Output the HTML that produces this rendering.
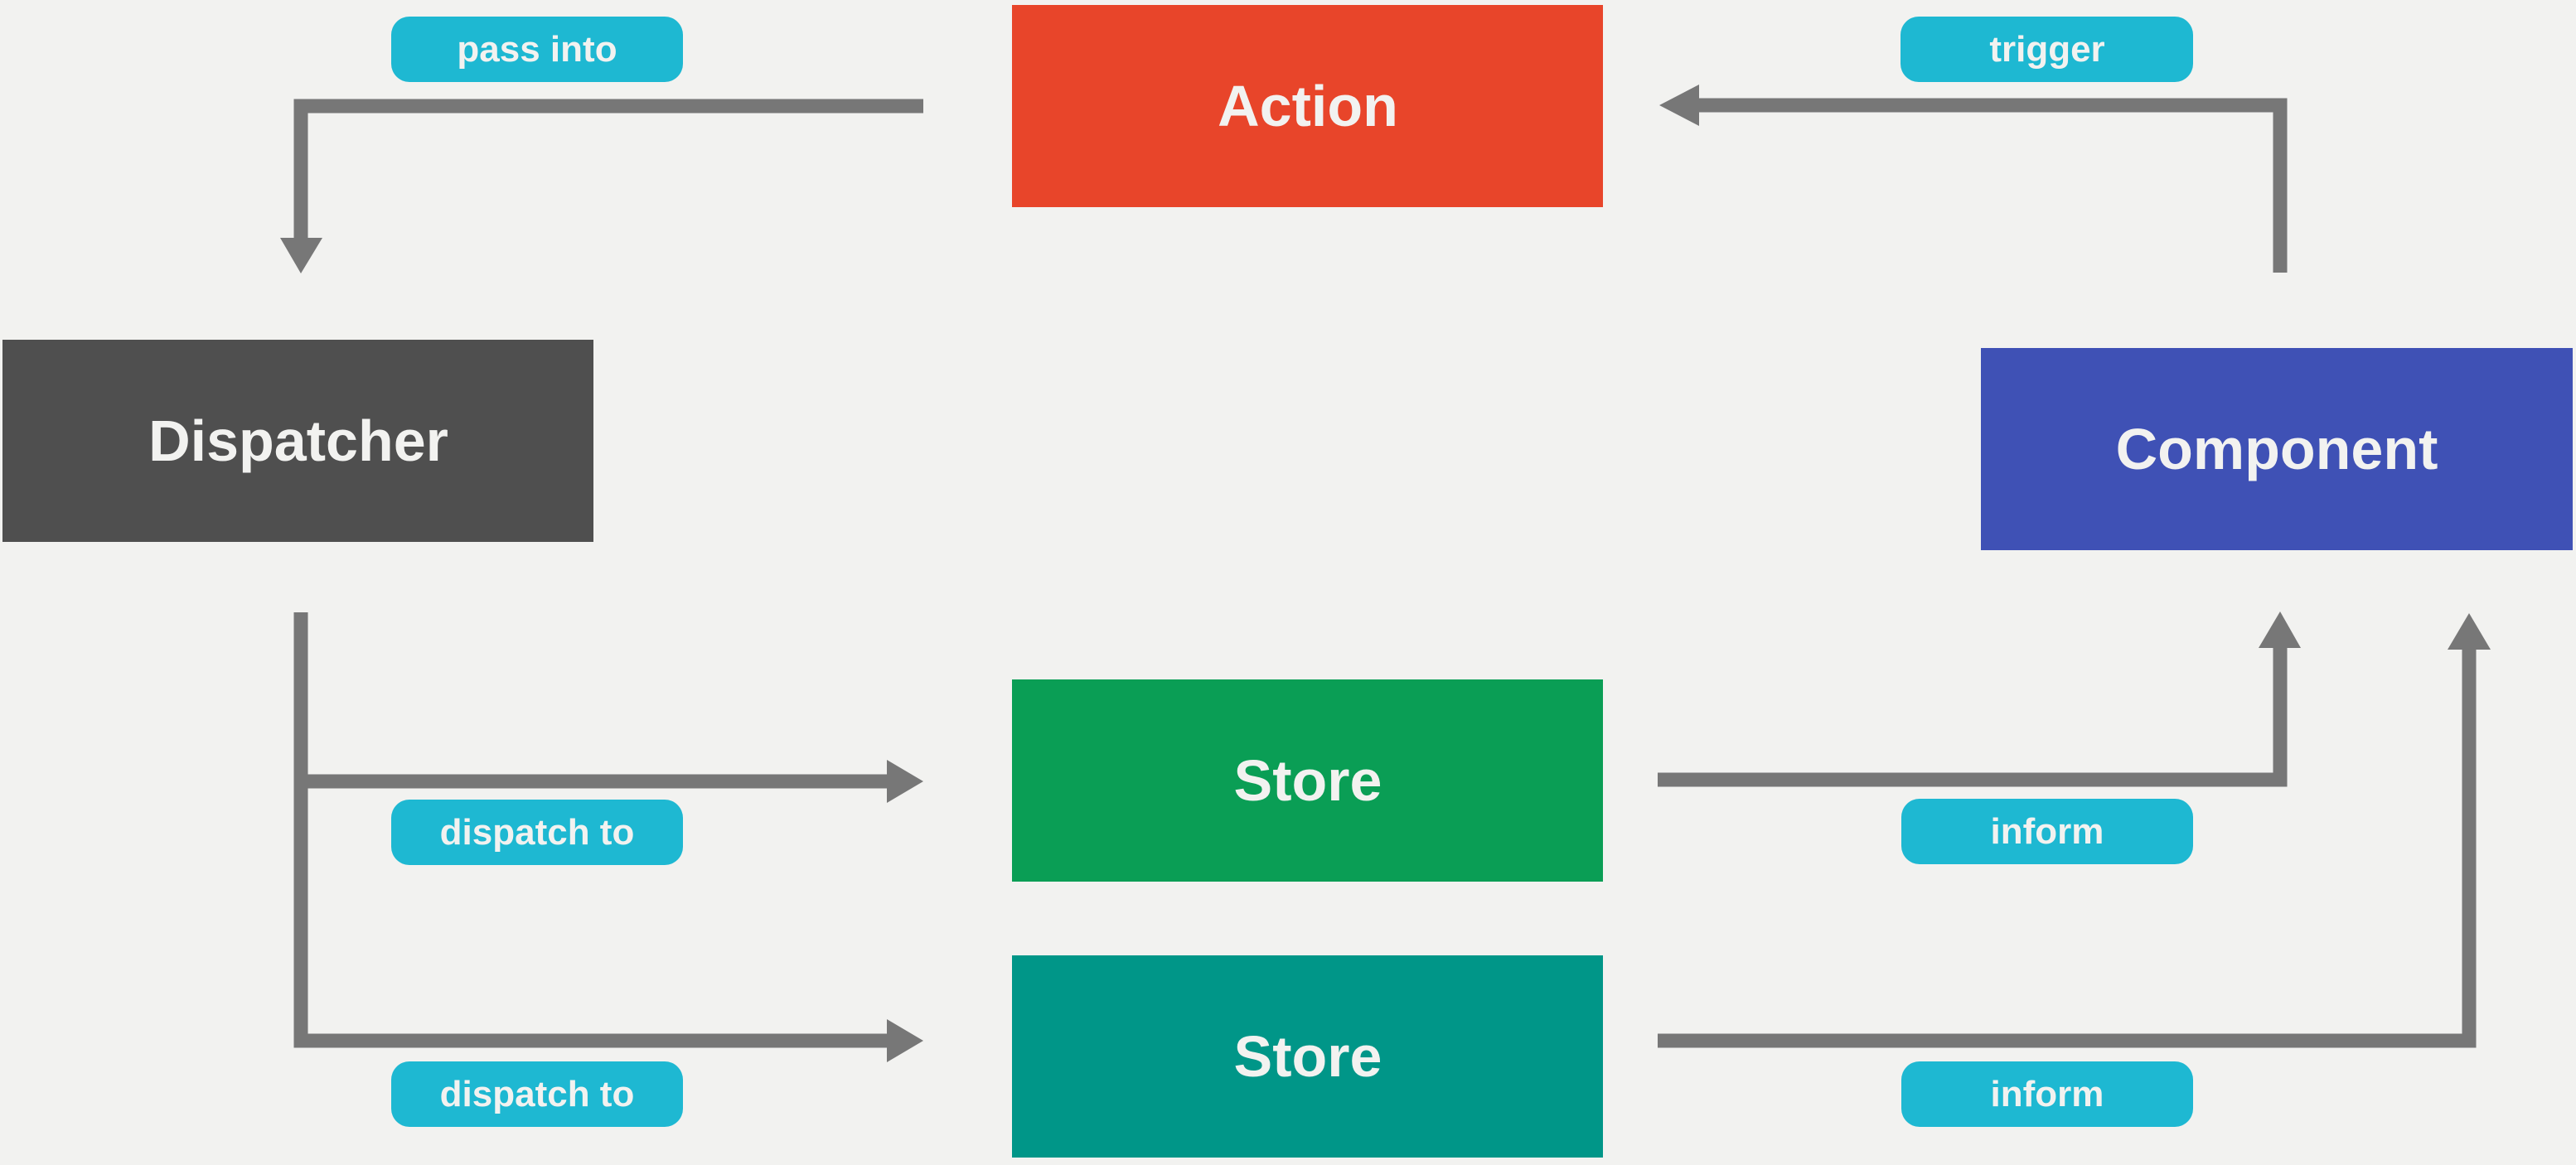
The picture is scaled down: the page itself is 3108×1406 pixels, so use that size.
<!DOCTYPE html>
<html><head><meta charset="utf-8"><style>
html,body{margin:0;padding:0;background:#f2f2f0;}
svg{display:block;}
text{font-family:"Liberation Sans",sans-serif;font-weight:bold;fill:#f2f2f0;text-anchor:middle;}
.b{font-size:70px;}
.l{font-size:44px;}
</style></head><body>
<svg width="3108" height="1406" viewBox="0 0 3108 1406" xmlns="http://www.w3.org/2000/svg">
<rect width="3108" height="1406" fill="#f2f2f0"/>
<!-- boxes -->
<rect x="1221" y="6" width="713" height="244" fill="#e8452a"/>
<text class="b" x="1578" y="152">Action</text>
<rect x="3" y="410" width="713" height="244" fill="#4f4f4f"/>
<text class="b" x="360" y="556">Dispatcher</text>
<rect x="2390" y="420" width="714" height="244" fill="#3f51b5"/>
<text class="b" x="2747" y="566">Component</text>
<rect x="1221" y="820" width="713" height="244" fill="#0a9e55"/>
<text class="b" x="1578" y="966">Store</text>
<rect x="1221" y="1153" width="713" height="244" fill="#009688"/>
<text class="b" x="1578" y="1299">Store</text>
<!-- connectors -->
<g fill="none" stroke="#777" stroke-width="17">
<polyline points="1114,128 363,128 363,290"/>
<polyline points="2751,329 2751,127 2045,127"/>
<polyline points="363,739 363,1256 1075,1256"/>
<line x1="363" y1="943" x2="1075" y2="943"/>
<polyline points="2000,941 2751,941 2751,778"/>
<polyline points="2000,1256 2979,1256 2979,780"/>
</g>
<g fill="#777">
<polygon points="338,287 389,287 363,330"/>
<polygon points="2050,102 2050,152 2002,127"/>
<polygon points="1070,917 1070,969 1114,943"/>
<polygon points="1070,1230 1070,1282 1114,1256"/>
<polygon points="2725,782 2776,782 2751,738"/>
<polygon points="2953,784 3005,784 2979,740"/>
</g>
<!-- labels -->
<g fill="#1eb8d2">
<rect x="472" y="20" width="352" height="79" rx="22"/>
<rect x="2293" y="20" width="353" height="79" rx="22"/>
<rect x="472" y="965" width="352" height="79" rx="22"/>
<rect x="472" y="1281" width="352" height="79" rx="22"/>
<rect x="2294" y="964" width="352" height="79" rx="22"/>
<rect x="2294" y="1281" width="352" height="79" rx="22"/>
</g>
<text class="l" x="648" y="74">pass into</text>
<text class="l" x="2470" y="74">trigger</text>
<text class="l" x="648" y="1019">dispatch to</text>
<text class="l" x="648" y="1335">dispatch to</text>
<text class="l" x="2470" y="1018">inform</text>
<text class="l" x="2470" y="1335">inform</text>
</svg>
</body></html>
